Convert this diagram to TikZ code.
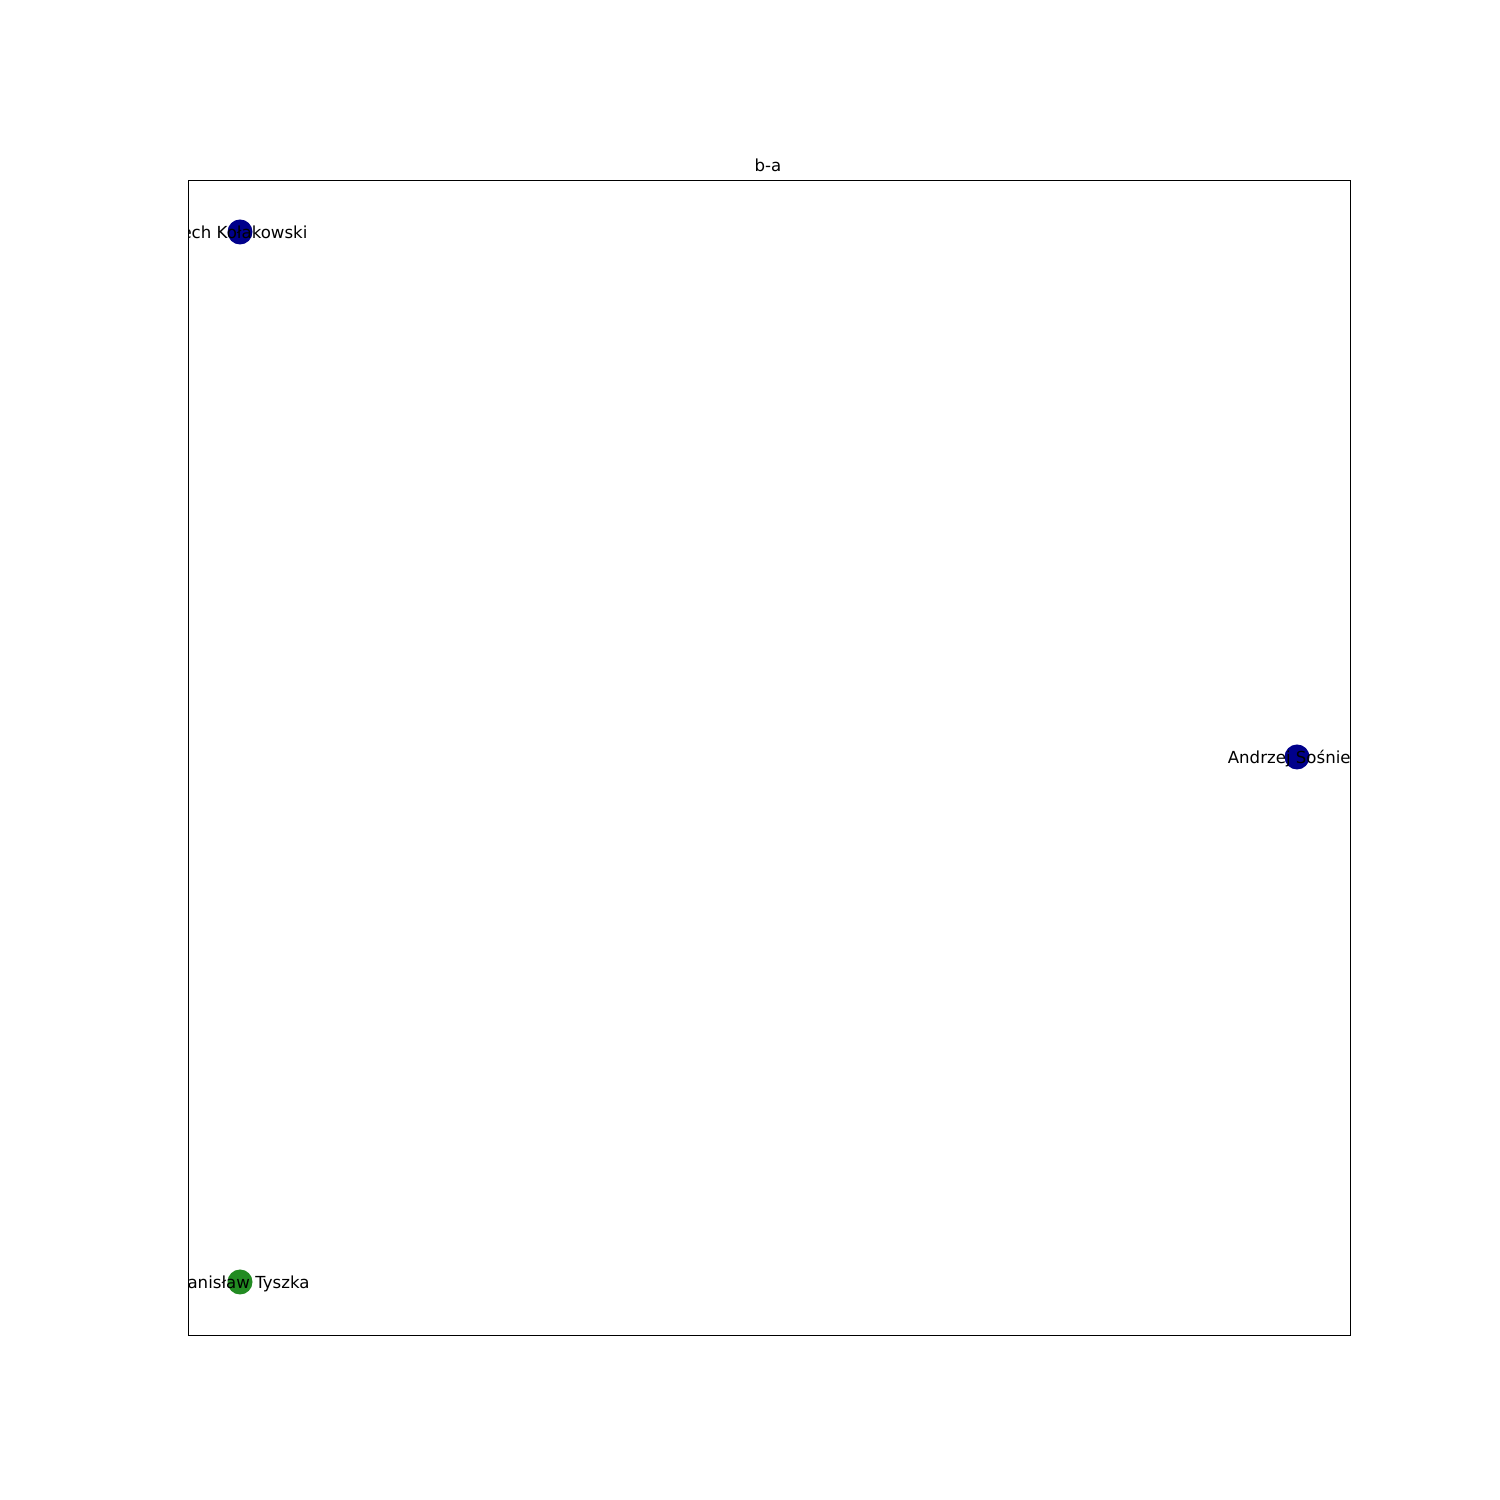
\documentclass[tikz,border=0pt]{standalone}
\usepackage{fontspec}
\setmainfont{DejaVu Sans}
\usetikzlibrary{positioning}

\begin{document}
\begin{tikzpicture}[x=1in,y=1in,
  persona/.style={circle,inner sep=0pt,minimum size=0.25in},
  nombre/.style={inner sep=0pt,font=\fontsize{12}{14}\selectfont}]
  % lienzo completo
  \useasboundingbox (0,0) rectangle (15,15);
  % marco del grafo
  \draw[line width=0.6pt] (1.88,1.65) rectangle (13.50,13.20);
  \node[nombre,anchor=base] (titulo) at (7.68,13.28) {b-a};
  % nodos
  \node[persona,fill={rgb,255:red,0;green,0;blue,139}] (lk) at (2.40,12.68) {};
  \node[persona,fill={rgb,255:red,0;green,0;blue,139}] (as) at (12.97,7.43) {};
  \node[persona,fill={rgb,255:red,34;green,139;blue,34}] (st) at (2.40,2.18) {};
  % etiquetas, recortadas por el marco
  \begin{scope}
    \clip (1.88,1.65) rectangle (13.50,13.20);
    \node[nombre] (lkl) at (2.40,12.68) {Lech Kołakowski};
    \node[nombre] (asl) at (12.97,7.41) {Andrzej Sośnierz};
    \node[nombre] (stl) at (2.40,2.16) {Stanisław Tyszka};
  \end{scope}
\end{tikzpicture}
\end{document}
